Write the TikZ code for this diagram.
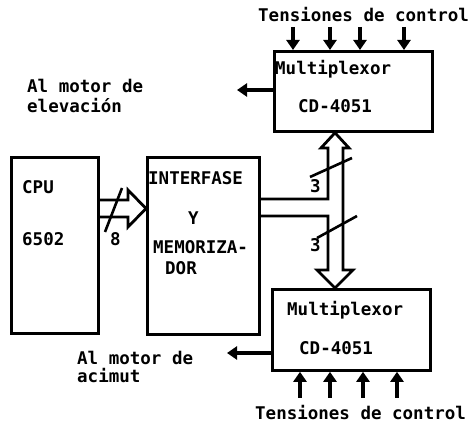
\documentclass[tikz,border=0pt]{standalone}
\usepackage{fontspec}
\setmonofont{DejaVu Sans Mono}
\usetikzlibrary{arrows.meta, positioning, calc}
\tikzset{
  blk/.style={draw, line width=2.8pt, anchor=north west, inner sep=0pt},
  lbl/.style={font=\ttfamily\bfseries\fontsize{17.5}{20}\selectfont, inner sep=0pt, anchor=base west},
  sig/.style={line width=3.2pt, -{Triangle[length=10pt,width=13pt]}},
  bus/.style={line width=2.8pt, line join=miter},
  tick/.style={line width=2.6pt}
}

\begin{document}
\begin{tikzpicture}[x=1pt, y=-1pt]
  \useasboundingbox (0,0) rectangle (475,430);
  % blocks
  \node[blk, minimum width=87pt, minimum height=176pt] (cpu) at (10,156) {};
  \node[blk, minimum width=112pt, minimum height=177pt] (intf) at (146,156) {};
  \node[blk, minimum width=158pt, minimum height=80pt] (muxa) at (273,50) {};
  \node[blk, minimum width=158pt, minimum height=81pt] (muxb) at (271,288) {};
  % texts
  \node[lbl] (cpuname) at (22,194) {CPU};
  \node[lbl] (cpunum) at (22,246) {6502};
  \node[lbl] (intfa) at (148,185) {INTERFASE};
  \node[lbl] (intfb) at (188,225) {Y};
  \node[lbl] (intfc) at (153,254) {MEMORIZA-};
  \node[lbl] (intfd) at (165,275) {DOR};
  \node[lbl] (muxaname) at (275,75) {Multiplexor};
  \node[lbl] (muxanum) at (298,113) {CD-4051};
  \node[lbl] (muxbname) at (287,316) {Multiplexor};
  \node[lbl] (muxbnum) at (299,355) {CD-4051};
  \node[lbl] (tensa) at (258,22) {Tensiones de control};
  \node[lbl] (tensb) at (255,420) {Tensiones de control};
  \node[lbl] (elevA) at (27,93) {Al motor de};
  \node[lbl] (elevB) at (27,113) {elevación};
  \node[lbl] (acimA) at (77,365) {Al motor de};
  \node[lbl] (acimB) at (77,383) {acimut};
  % outputs to motors
  \coordinate (elev) at (237,90);
  \coordinate (acim) at (227,353);
  \draw[sig] (muxa.west |- elev) -- (elev);
  \draw[sig] (muxb.west |- acim) -- (acim);
  % control voltages
  \foreach \x in {293,330,360,404}
    \draw[sig] (\x,27) -- (\x,0 |- muxa.north);
  \foreach \x in {300,330,363,397}
    \draw[sig] (\x,398) -- (\x,0 |- muxb.south);
  % data bus cpu -> interfase
  \draw[bus] (cpu.east |- 0,200) -- (128,200) -- (128,190) -- (intf.west |- 0,208.5)
    -- (128,227) -- (128,217) -- (cpu.east |- 0,217);
  \draw[tick] (105,232) -- (122,188);
  \node[lbl] (eight) at (110,246) {8};
  % bus interfase -> multiplexores
  \draw[bus] (intf.east |- 0,199) -- (328,199) -- (328,148) -- (321,148)
    -- (335,0 |- muxa.south) -- (349,148) -- (343,148) -- (343,270) -- (353,270)
    -- (335,0 |- muxb.north) -- (317,270) -- (328,270) -- (328,216) -- (intf.east |- 0,216);
  \draw[tick] (310,177) -- (352,158);
  \node[lbl] (threea) at (310,193) {3};
  \draw[tick] (317,238) -- (357,216);
  \node[lbl] (threeb) at (310,252) {3};
\end{tikzpicture}
\end{document}
